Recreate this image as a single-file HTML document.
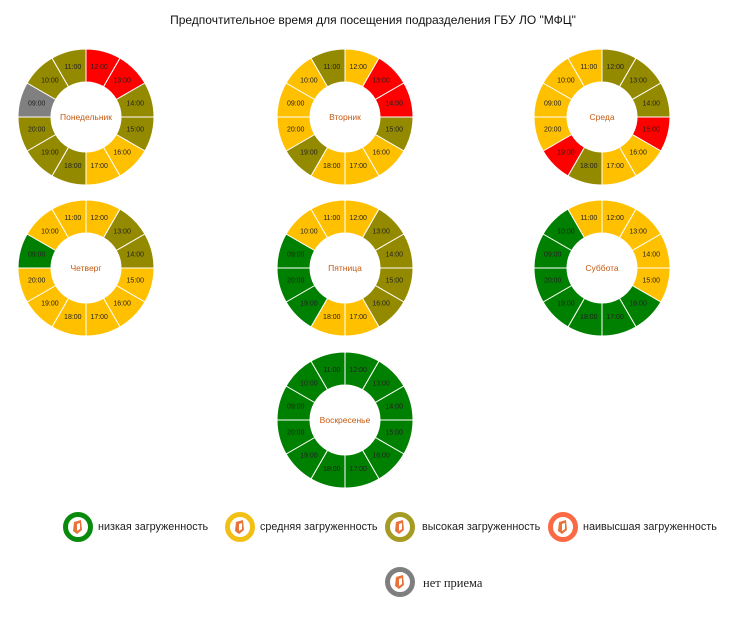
<!DOCTYPE html>
<html><head><meta charset="utf-8"><style>
body{margin:0;background:#fff;width:746px;height:618px;overflow:hidden}
svg{display:block}
.l{font-family:"Liberation Sans",sans-serif;font-size:7px;fill:#222;text-anchor:middle;dominant-baseline:central}
.c{font-family:"Liberation Sans",sans-serif;font-size:8.5px;fill:#c55a11;text-anchor:middle;dominant-baseline:central}
.t{font-family:"Liberation Sans",sans-serif;font-size:12px;fill:#111}
.lg{font-family:"Liberation Sans",sans-serif;font-size:10.8px;fill:#222;dominant-baseline:central}
</style></head><body>
<svg width="746" height="618" viewBox="0 0 746 618">
<defs>
<path id="s" d="M0,-68 A68,68 0 0 1 34,-58.89 L17.5,-30.31 A35,35 0 0 0 0,-35 Z" stroke="#fff" stroke-width="1"/>
<g id="lb">
<text class="l" x="13.2" y="-49.3">12:00</text><text class="l" x="36.1" y="-36.1">13:00</text><text class="l" x="49.3" y="-13.2">14:00</text><text class="l" x="49.3" y="13.2">15:00</text><text class="l" x="36.1" y="36.1">16:00</text><text class="l" x="13.2" y="49.3">17:00</text><text class="l" x="-13.2" y="49.3">18:00</text><text class="l" x="-36.1" y="36.1">19:00</text><text class="l" x="-49.3" y="13.2">20:00</text><text class="l" x="-49.3" y="-13.2">09:00</text><text class="l" x="-36.1" y="-36.1">10:00</text><text class="l" x="-13.2" y="-49.3">11:00</text>
</g>
<g id="ic"><path d="M-4,-5 L3,-7 L4,3 L-1,7 L-5,4 Z" fill="#e8743c"/><path d="M-1,-3 L2,-4 L2,2 L-1,4 Z" fill="#fff"/></g>
</defs>
<text class="t" x="373" y="24" text-anchor="middle">Предпочтительное время для посещения подразделения ГБУ ЛО "МФЦ"</text>

<g transform="translate(86,117)">
<use href="#s" fill="#ff0000"/><use href="#s" fill="#ff0000" transform="rotate(30)"/><use href="#s" fill="#948a00" transform="rotate(60)"/><use href="#s" fill="#948a00" transform="rotate(90)"/><use href="#s" fill="#ffc000" transform="rotate(120)"/><use href="#s" fill="#ffc000" transform="rotate(150)"/><use href="#s" fill="#948a00" transform="rotate(180)"/><use href="#s" fill="#948a00" transform="rotate(210)"/><use href="#s" fill="#948a00" transform="rotate(240)"/><use href="#s" fill="#808080" transform="rotate(270)"/><use href="#s" fill="#948a00" transform="rotate(300)"/><use href="#s" fill="#948a00" transform="rotate(330)"/>
<use href="#lb"/><text class="c" x="0" y="0">Понедельник</text></g>

<g transform="translate(345,117)">
<use href="#s" fill="#ffc000"/><use href="#s" fill="#ff0000" transform="rotate(30)"/><use href="#s" fill="#ff0000" transform="rotate(60)"/><use href="#s" fill="#948a00" transform="rotate(90)"/><use href="#s" fill="#ffc000" transform="rotate(120)"/><use href="#s" fill="#ffc000" transform="rotate(150)"/><use href="#s" fill="#ffc000" transform="rotate(180)"/><use href="#s" fill="#948a00" transform="rotate(210)"/><use href="#s" fill="#ffc000" transform="rotate(240)"/><use href="#s" fill="#ffc000" transform="rotate(270)"/><use href="#s" fill="#ffc000" transform="rotate(300)"/><use href="#s" fill="#948a00" transform="rotate(330)"/>
<use href="#lb"/><text class="c" x="0" y="0">Вторник</text></g>

<g transform="translate(602,117)">
<use href="#s" fill="#948a00"/><use href="#s" fill="#948a00" transform="rotate(30)"/><use href="#s" fill="#948a00" transform="rotate(60)"/><use href="#s" fill="#ff0000" transform="rotate(90)"/><use href="#s" fill="#ffc000" transform="rotate(120)"/><use href="#s" fill="#ffc000" transform="rotate(150)"/><use href="#s" fill="#948a00" transform="rotate(180)"/><use href="#s" fill="#ff0000" transform="rotate(210)"/><use href="#s" fill="#ffc000" transform="rotate(240)"/><use href="#s" fill="#ffc000" transform="rotate(270)"/><use href="#s" fill="#ffc000" transform="rotate(300)"/><use href="#s" fill="#ffc000" transform="rotate(330)"/>
<use href="#lb"/><text class="c" x="0" y="0">Среда</text></g>

<g transform="translate(86,268)">
<use href="#s" fill="#ffc000"/><use href="#s" fill="#948a00" transform="rotate(30)"/><use href="#s" fill="#948a00" transform="rotate(60)"/><use href="#s" fill="#ffc000" transform="rotate(90)"/><use href="#s" fill="#ffc000" transform="rotate(120)"/><use href="#s" fill="#ffc000" transform="rotate(150)"/><use href="#s" fill="#ffc000" transform="rotate(180)"/><use href="#s" fill="#ffc000" transform="rotate(210)"/><use href="#s" fill="#ffc000" transform="rotate(240)"/><use href="#s" fill="#008000" transform="rotate(270)"/><use href="#s" fill="#ffc000" transform="rotate(300)"/><use href="#s" fill="#ffc000" transform="rotate(330)"/>
<use href="#lb"/><text class="c" x="0" y="0">Четверг</text></g>

<g transform="translate(345,268)">
<use href="#s" fill="#ffc000"/><use href="#s" fill="#948a00" transform="rotate(30)"/><use href="#s" fill="#948a00" transform="rotate(60)"/><use href="#s" fill="#948a00" transform="rotate(90)"/><use href="#s" fill="#948a00" transform="rotate(120)"/><use href="#s" fill="#ffc000" transform="rotate(150)"/><use href="#s" fill="#ffc000" transform="rotate(180)"/><use href="#s" fill="#008000" transform="rotate(210)"/><use href="#s" fill="#008000" transform="rotate(240)"/><use href="#s" fill="#008000" transform="rotate(270)"/><use href="#s" fill="#ffc000" transform="rotate(300)"/><use href="#s" fill="#ffc000" transform="rotate(330)"/>
<use href="#lb"/><text class="c" x="0" y="0">Пятница</text></g>

<g transform="translate(602,268)">
<use href="#s" fill="#ffc000"/><use href="#s" fill="#ffc000" transform="rotate(30)"/><use href="#s" fill="#ffc000" transform="rotate(60)"/><use href="#s" fill="#ffc000" transform="rotate(90)"/><use href="#s" fill="#008000" transform="rotate(120)"/><use href="#s" fill="#008000" transform="rotate(150)"/><use href="#s" fill="#008000" transform="rotate(180)"/><use href="#s" fill="#008000" transform="rotate(210)"/><use href="#s" fill="#008000" transform="rotate(240)"/><use href="#s" fill="#008000" transform="rotate(270)"/><use href="#s" fill="#008000" transform="rotate(300)"/><use href="#s" fill="#ffc000" transform="rotate(330)"/>
<use href="#lb"/><text class="c" x="0" y="0">Суббота</text></g>

<g transform="translate(345,420)">
<use href="#s" fill="#008000"/><use href="#s" fill="#008000" transform="rotate(30)"/><use href="#s" fill="#008000" transform="rotate(60)"/><use href="#s" fill="#008000" transform="rotate(90)"/><use href="#s" fill="#008000" transform="rotate(120)"/><use href="#s" fill="#008000" transform="rotate(150)"/><use href="#s" fill="#008000" transform="rotate(180)"/><use href="#s" fill="#008000" transform="rotate(210)"/><use href="#s" fill="#008000" transform="rotate(240)"/><use href="#s" fill="#008000" transform="rotate(270)"/><use href="#s" fill="#008000" transform="rotate(300)"/><use href="#s" fill="#008000" transform="rotate(330)"/>
<use href="#lb"/><text class="c" x="0" y="0">Воскресенье</text></g>

<g transform="translate(78,527)"><circle r="12.5" fill="#fff" stroke="#0a8a0a" stroke-width="5"/><use href="#ic"/></g>
<text class="lg" x="98" y="527">низкая загруженность</text>
<g transform="translate(240,527)"><circle r="12.5" fill="#fff" stroke="#f2c014" stroke-width="5"/><use href="#ic"/></g>
<text class="lg" x="260" y="527">средняя загруженность</text>
<g transform="translate(400,527)"><circle r="12.5" fill="#fff" stroke="#a69b22" stroke-width="5"/><use href="#ic"/></g>
<text class="lg" x="422" y="527">высокая загруженность</text>
<g transform="translate(563,527)"><circle r="12.5" fill="#fff" stroke="#fb6a45" stroke-width="5"/><use href="#ic"/></g>
<text class="lg" x="583" y="527">наивысшая загруженность</text>
<g transform="translate(400,582)"><circle r="12.5" fill="#fff" stroke="#7f7f7f" stroke-width="5"/><use href="#ic"/></g>
<text class="lg" x="423" y="583" style="font-family:'Liberation Serif',serif;font-size:12.5px">нет приема</text>
</svg>
</body></html>
